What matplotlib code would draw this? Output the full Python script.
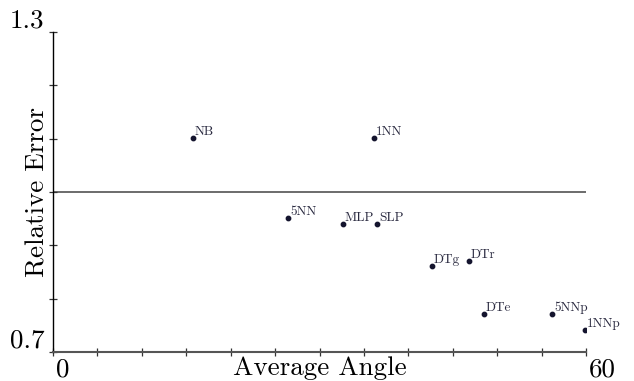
import matplotlib
matplotlib.use("Agg")
from matplotlib import pyplot as plt
from matplotlib.ticker import MultipleLocator
from matplotlib.transforms import ScaledTranslation

plt.rcParams['font.family'] = ['cmr10', 'DejaVu Serif']
plt.rcParams['axes.formatter.use_mathtext'] = True

# data
names = ["NB", "1NN", "5NN", "MLP", "SLP", "DTg", "DTr", "DTe", "5NNp", "1NNp"]
angle = [15.8, 36.1, 26.5, 32.6, 36.5, 42.7, 46.8, 48.5, 56.2, 59.9]
rel_err = [1.101, 1.101, 0.951, 0.940, 0.940, 0.861, 0.870, 0.771, 0.771, 0.741]

fig = plt.figure(figsize=(6.34, 3.81), dpi=100)
ax = fig.add_axes([53/634, 1 - 352/381, 533/634, 320/381])

ax.set_xlim(0, 60)
ax.set_ylim(0.7, 1.3)

ax.plot([0, 60], [1.0, 1.0], color="#444444", lw=1.1, zorder=1)
ax.scatter(angle, rel_err, s=10, color="#14142e", zorder=3)
for n, x, y in zip(names, angle, rel_err):
    ax.annotate(n, (x, y), xytext=(1.2, 0.3), textcoords="offset points",
                fontsize=9.5, color="#2a2a40", ha="left", va="bottom")

for s in ["top", "right"]:
    ax.spines[s].set_visible(False)
ax.spines["left"].set_color("black")
ax.spines["left"].set_linewidth(1.0)
ax.spines["bottom"].set_color("#555555")
ax.spines["bottom"].set_linewidth(1.5)

ax.set_xticks([0, 60])
ax.set_xticklabels(["0", "60"])
ax.xaxis.set_minor_locator(MultipleLocator(5))
ax.set_yticks([0.7, 1.3])
ax.set_yticklabels(["0.7", "1.3"])
ax.yaxis.set_minor_locator(MultipleLocator(0.1))
ax.tick_params(which="both", direction="inout", length=6, width=0.9,
               color="#333333", labelsize=19.5)
ax.tick_params(axis="x", pad=1)
ax.tick_params(axis="y", pad=3)
shift = ScaledTranslation(3/100, 0, fig.dpi_scale_trans)
for t in ax.get_xticklabels():
    t.set_horizontalalignment("left")
    t.set_transform(t.get_transform() + shift)
for t in ax.get_yticklabels():
    t.set_verticalalignment("bottom")

ax.set_xlabel("Average Angle", fontsize=19.5)
ax.xaxis.set_label_coords(0.5, -0.012)
ax.xaxis.label.set_verticalalignment("top")
ax.set_ylabel("Relative Error", fontsize=19.5)
ax.yaxis.set_label_coords(-0.028, 0.5)
ax.yaxis.label.set_verticalalignment("center")

fig.savefig("out.png", dpi=100)
